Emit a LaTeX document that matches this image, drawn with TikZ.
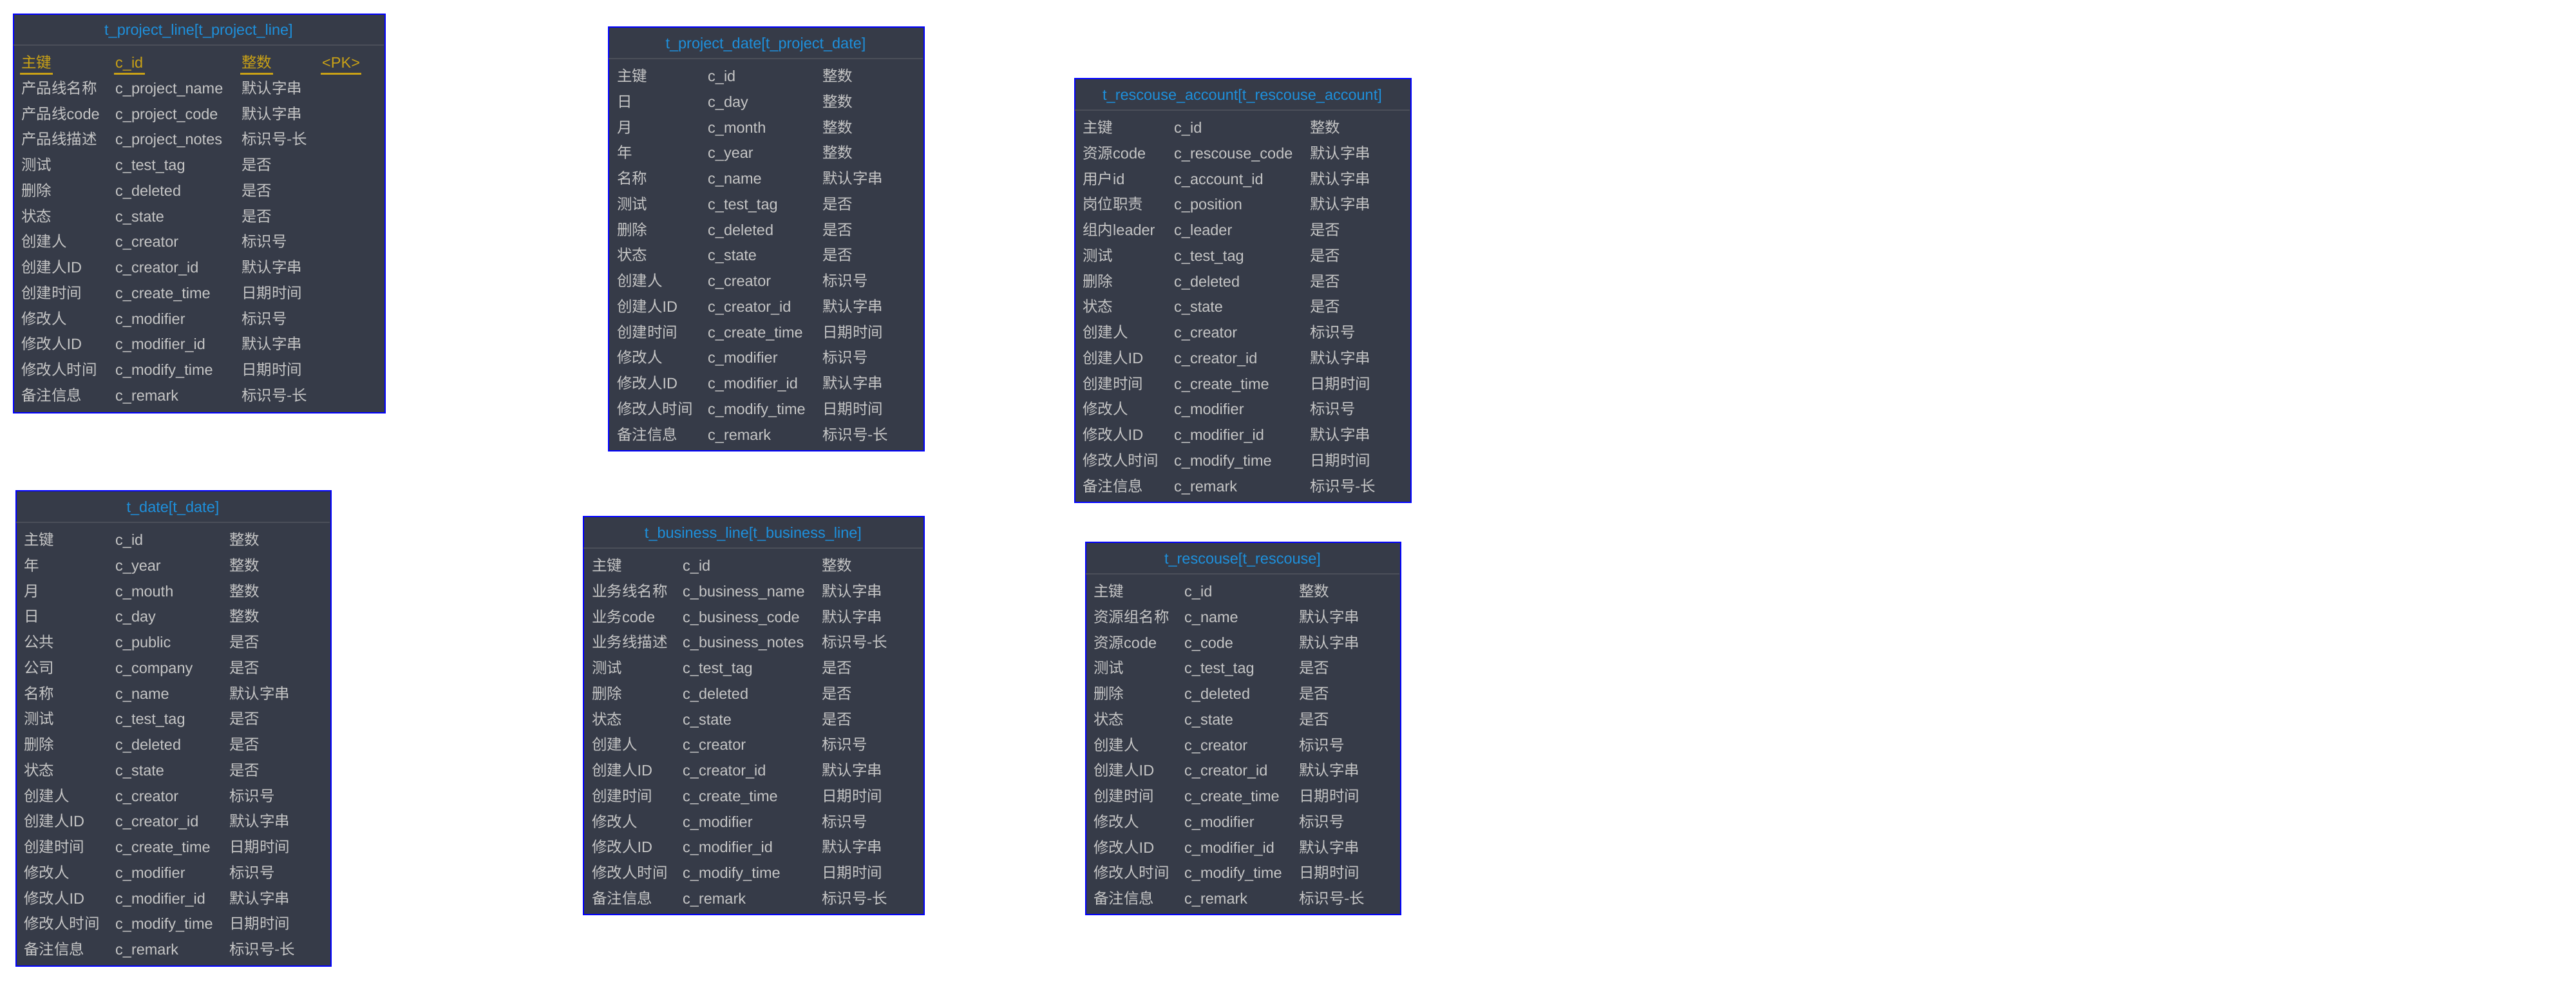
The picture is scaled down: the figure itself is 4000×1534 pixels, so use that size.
\documentclass[tikz,border=0pt]{standalone}
\usepackage{fontspec}
\setmainfont{Liberation Sans}
\newfontfamily\cjk{Noto Sans CJK SC}
\newcommand\Z[1]{{\cjk #1}}
\definecolor{erbg}{HTML}{363B48}
\definecolor{ertitle}{HTML}{1E90DC}
\definecolor{ertext}{HTML}{C6C6C6}
\definecolor{erpk}{HTML}{C9A116}
\definecolor{ersep}{HTML}{4B4F59}
\definecolor{erborder}{HTML}{0000FF}
\tikzset{
 tbox/.style={draw=erborder, line width=2pt, fill=erbg, rectangle, inner sep=0pt, anchor=north west},
 ttl/.style={text=ertitle, anchor=base, inner sep=0pt, font=\fontsize{23.5}{28}\selectfont},
 cell/.style={text=ertext, anchor=base west, inner sep=0pt, font=\fontsize{23.5}{28}\selectfont},
 pkcell/.style={cell, text=erpk},
 sepline/.style={draw=ersep, line width=1.8pt},
 pkline/.style={draw=erpk, line width=2.5pt},
}
% name, left, top, right, bottom, separator y, title, title centre y
\newcommand\erframe[8]{%
  \node[tbox, minimum width={(#4-#2)*1pt}, minimum height={(#5-#3)*1pt}] (#1) at (#2,#3) {};
  \draw[sepline] ({#2+1},#6) -- ({#4-1},#6);
  \node[ttl] (#1-title) at ({(#2+#4)/2},{#8+7}) {#7};
}
% name, col1, col2, col3, first row centre y, list
\newcommand\errows[6]{%
  \foreach \xa/\xb/\xc [count=\i] in {#6} {
    \node[cell] (#1-a\i) at (#2,{#5+(\i-1)*39.75+8.5}) {\xa};
    \node[cell] (#1-b\i) at (#3,{#5+(\i-1)*39.75+8.5}) {\xb};
    \node[cell] (#1-c\i) at (#4,{#5+(\i-1)*39.75+8.5}) {\xc};
  }
}
\begin{document}
\begin{tikzpicture}[x=1pt,y=-1pt]
\fill[white] (0,0) rectangle (4000,1534);
\useasboundingbox (0,0) rectangle (4000,1534);

% t_project_line
\erframe{tpl}{20}{21}{597}{640}{70}{t\_project\_line[t\_project\_line]}{47}
\node[pkcell] (tpl-pa) at (33,105.5) {\Z{主键}};
\node[pkcell] (tpl-pb) at (179,105.5) {c\_id};
\node[pkcell] (tpl-pc) at (375,105.5) {\Z{整数}};
\node[pkcell] (tpl-pd) at (500,105.5) {<PK>};
\foreach \n in {pa,pb,pc,pd}
  \draw[pkline] ([xshift=-2pt,yshift=-9pt]tpl-\n.base west) -- ([xshift=2pt,yshift=-9pt]tpl-\n.base east);
\errows{tpl}{33}{179}{375}{136.75}{%
\Z{产品线名称}/c\_project\_name/\Z{默认字串},
\Z{产品线}code/c\_project\_code/\Z{默认字串},
\Z{产品线描述}/c\_project\_notes/\Z{标识号-长},
\Z{测试}/c\_test\_tag/\Z{是否},
\Z{删除}/c\_deleted/\Z{是否},
\Z{状态}/c\_state/\Z{是否},
\Z{创建人}/c\_creator/\Z{标识号},
\Z{创建人}ID/c\_creator\_id/\Z{默认字串},
\Z{创建时间}/c\_create\_time/\Z{日期时间},
\Z{修改人}/c\_modifier/\Z{标识号},
\Z{修改人}ID/c\_modifier\_id/\Z{默认字串},
\Z{修改人时间}/c\_modify\_time/\Z{日期时间},
\Z{备注信息}/c\_remark/\Z{标识号-长}}

% t_project_date
\erframe{tpd}{944}{41}{1434}{699}{91}{t\_project\_date[t\_project\_date]}{68}
\errows{tpd}{958}{1099}{1277}{118}{%
\Z{主键}/c\_id/\Z{整数},
\Z{日}/c\_day/\Z{整数},
\Z{月}/c\_month/\Z{整数},
\Z{年}/c\_year/\Z{整数},
\Z{名称}/c\_name/\Z{默认字串},
\Z{测试}/c\_test\_tag/\Z{是否},
\Z{删除}/c\_deleted/\Z{是否},
\Z{状态}/c\_state/\Z{是否},
\Z{创建人}/c\_creator/\Z{标识号},
\Z{创建人}ID/c\_creator\_id/\Z{默认字串},
\Z{创建时间}/c\_create\_time/\Z{日期时间},
\Z{修改人}/c\_modifier/\Z{标识号},
\Z{修改人}ID/c\_modifier\_id/\Z{默认字串},
\Z{修改人时间}/c\_modify\_time/\Z{日期时间},
\Z{备注信息}/c\_remark/\Z{标识号-长}}

% t_rescouse_account
\erframe{tra}{1668}{121}{2190}{779}{171}{t\_rescouse\_account[t\_rescouse\_account]}{148}
\errows{tra}{1681}{1823}{2034}{198}{%
\Z{主键}/c\_id/\Z{整数},
\Z{资源}code/c\_rescouse\_code/\Z{默认字串},
\Z{用户}id/c\_account\_id/\Z{默认字串},
\Z{岗位职责}/c\_position/\Z{默认字串},
\Z{组内}leader/c\_leader/\Z{是否},
\Z{测试}/c\_test\_tag/\Z{是否},
\Z{删除}/c\_deleted/\Z{是否},
\Z{状态}/c\_state/\Z{是否},
\Z{创建人}/c\_creator/\Z{标识号},
\Z{创建人}ID/c\_creator\_id/\Z{默认字串},
\Z{创建时间}/c\_create\_time/\Z{日期时间},
\Z{修改人}/c\_modifier/\Z{标识号},
\Z{修改人}ID/c\_modifier\_id/\Z{默认字串},
\Z{修改人时间}/c\_modify\_time/\Z{日期时间},
\Z{备注信息}/c\_remark/\Z{标识号-长}}

% t_date
\erframe{td}{24}{761}{513}{1499}{811}{t\_date[t\_date]}{788}
\errows{td}{37}{179}{356}{838}{%
\Z{主键}/c\_id/\Z{整数},
\Z{年}/c\_year/\Z{整数},
\Z{月}/c\_mouth/\Z{整数},
\Z{日}/c\_day/\Z{整数},
\Z{公共}/c\_public/\Z{是否},
\Z{公司}/c\_company/\Z{是否},
\Z{名称}/c\_name/\Z{默认字串},
\Z{测试}/c\_test\_tag/\Z{是否},
\Z{删除}/c\_deleted/\Z{是否},
\Z{状态}/c\_state/\Z{是否},
\Z{创建人}/c\_creator/\Z{标识号},
\Z{创建人}ID/c\_creator\_id/\Z{默认字串},
\Z{创建时间}/c\_create\_time/\Z{日期时间},
\Z{修改人}/c\_modifier/\Z{标识号},
\Z{修改人}ID/c\_modifier\_id/\Z{默认字串},
\Z{修改人时间}/c\_modify\_time/\Z{日期时间},
\Z{备注信息}/c\_remark/\Z{标识号-长}}

% t_business_line
\erframe{tbl}{905}{801}{1434}{1419}{851}{t\_business\_line[t\_business\_line]}{828}
\errows{tbl}{919}{1060}{1276}{878}{%
\Z{主键}/c\_id/\Z{整数},
\Z{业务线名称}/c\_business\_name/\Z{默认字串},
\Z{业务}code/c\_business\_code/\Z{默认字串},
\Z{业务线描述}/c\_business\_notes/\Z{标识号-长},
\Z{测试}/c\_test\_tag/\Z{是否},
\Z{删除}/c\_deleted/\Z{是否},
\Z{状态}/c\_state/\Z{是否},
\Z{创建人}/c\_creator/\Z{标识号},
\Z{创建人}ID/c\_creator\_id/\Z{默认字串},
\Z{创建时间}/c\_create\_time/\Z{日期时间},
\Z{修改人}/c\_modifier/\Z{标识号},
\Z{修改人}ID/c\_modifier\_id/\Z{默认字串},
\Z{修改人时间}/c\_modify\_time/\Z{日期时间},
\Z{备注信息}/c\_remark/\Z{标识号-长}}

% t_rescouse
\erframe{trs}{1685}{841}{2174}{1419}{891}{t\_rescouse[t\_rescouse]}{868}
\errows{trs}{1698}{1839}{2017}{918}{%
\Z{主键}/c\_id/\Z{整数},
\Z{资源组名称}/c\_name/\Z{默认字串},
\Z{资源}code/c\_code/\Z{默认字串},
\Z{测试}/c\_test\_tag/\Z{是否},
\Z{删除}/c\_deleted/\Z{是否},
\Z{状态}/c\_state/\Z{是否},
\Z{创建人}/c\_creator/\Z{标识号},
\Z{创建人}ID/c\_creator\_id/\Z{默认字串},
\Z{创建时间}/c\_create\_time/\Z{日期时间},
\Z{修改人}/c\_modifier/\Z{标识号},
\Z{修改人}ID/c\_modifier\_id/\Z{默认字串},
\Z{修改人时间}/c\_modify\_time/\Z{日期时间},
\Z{备注信息}/c\_remark/\Z{标识号-长}}
\end{tikzpicture}
\end{document}
